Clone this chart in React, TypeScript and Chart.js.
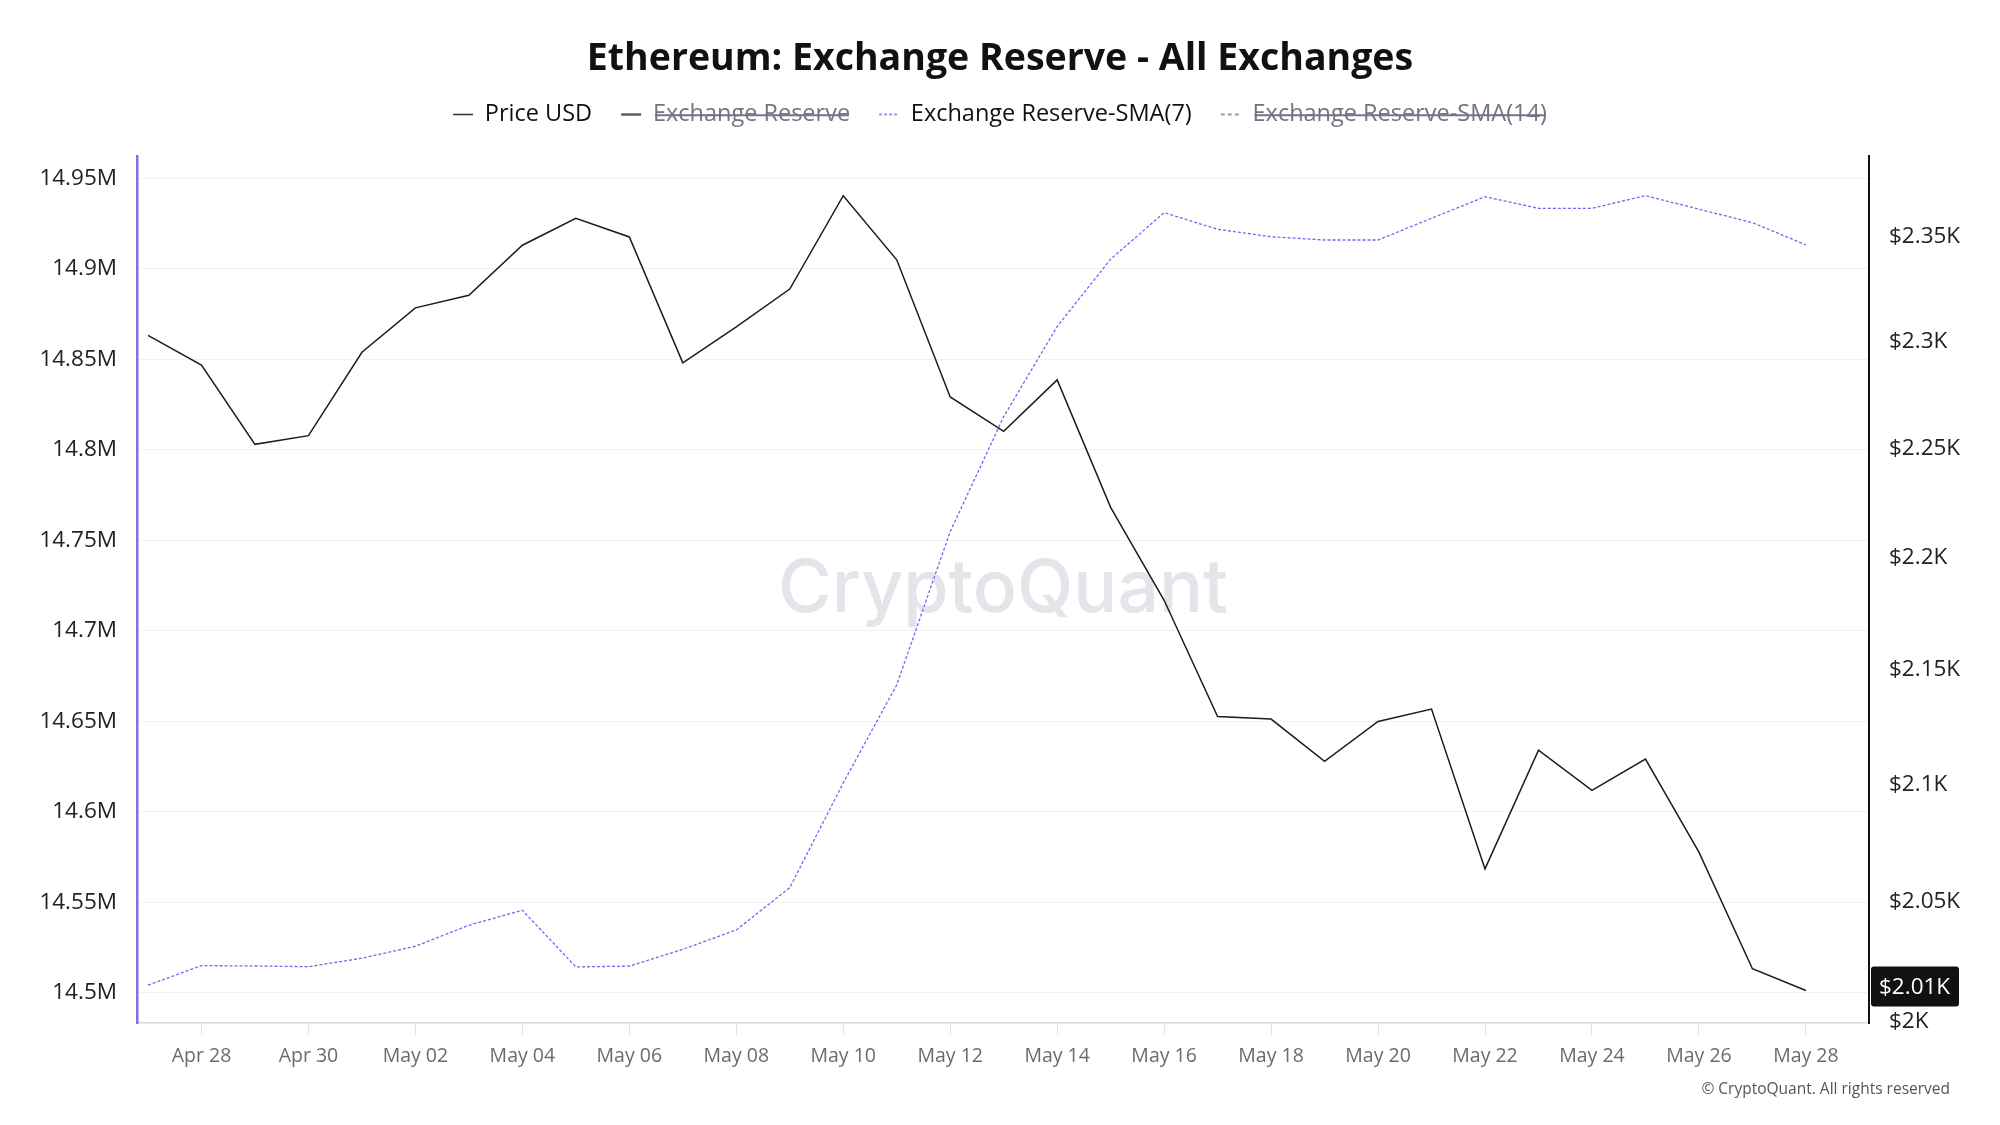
import React, { useEffect, useRef } from "react";
import { Chart, registerables } from "chart.js";

Chart.register(...registerables);

// ---------- data ----------
const dateLabels = [
  "Apr 27", "Apr 28", "Apr 29", "Apr 30", "May 01", "May 02", "May 03", "May 04",
  "May 05", "May 06", "May 07", "May 08", "May 09", "May 10", "May 11", "May 12",
  "May 13", "May 14", "May 15", "May 16", "May 17", "May 18", "May 19", "May 20",
  "May 21", "May 22", "May 23", "May 24", "May 25", "May 26", "May 27", "May 28",
];

const xTickLabels = [
  "Apr 28", "Apr 30", "May 02", "May 04", "May 06", "May 08", "May 10", "May 12",
  "May 14", "May 16", "May 18", "May 20", "May 22", "May 24", "May 26", "May 28",
];

const priceUsd = [
  2303, 2289, 2252, 2256, 2295, 2316, 2322, 2346,
  2359, 2350, 2290, 2307, 2325, 2370, 2339, 2274,
  2258, 2282, 2223, 2181, 2129.5, 2128.4, 2110, 2127.4,
  2132.8, 2063.9, 2114.9, 2097.5, 2111, 2071, 2022, 2013,
];

const reserveSma7 = [
  14504300, 14515100, 14514900, 14514500, 14519200, 14525800, 14537400, 14545700,
  14514400, 14514800, 14524100, 14534800, 14558200, 14616000, 14670200, 14754900,
  14818400, 14868200, 14905400, 14931100, 14921900, 14917800, 14916000, 14916000,
  14928000, 14939900, 14933500, 14933500, 14940500, 14933000, 14925600, 14913300,
];

// hidden in the reference (legend items struck through) – no values visible
const exchangeReserve: number[] = [];
const reserveSma14: number[] = [];

const leftTicks = [
  14500000, 14550000, 14600000, 14650000, 14700000,
  14750000, 14800000, 14850000, 14900000, 14950000,
];
const rightTicks = [2000, 2050, 2100, 2150, 2200, 2250, 2300, 2350];

const TITLE = "Ethereum: Exchange Reserve - All Exchanges";
const FONT = "'Open Sans', 'Noto Sans', sans-serif";

const toXY = (arr: number[]) => arr.map((v, i) => ({ x: i, y: v }));

export default function App() {
  const ref = useRef<HTMLCanvasElement>(null);

  useEffect(() => {
    const canvas = ref.current;
    if (!canvas) return;

    const watermark = {
      id: "watermark",
      beforeDatasetsDraw(chart: any) {
        const { ctx, chartArea } = chart;
        ctx.save();
        const fam = "Inter, Lato, sans-serif";
        ctx.font = `500 80px ${fam}`;
        const w = ctx.measureText("CryptoQuant").width;
        const size = (80 * 450) / w;
        ctx.font = `500 ${size}px ${fam}`;
        ctx.fillStyle = "#e4e4eb";
        ctx.textAlign = "center";
        ctx.textBaseline = "alphabetic";
        const cx = (chartArea.left + chartArea.right) / 2;
        const cy = (chartArea.top + chartArea.bottom) / 2 + 22;
        ctx.fillText("CryptoQuant", cx, cy);
        ctx.restore();
      },
    };

    const extras = {
      id: "extras",
      afterDraw(chart: any) {
        const { ctx } = chart;
        // copyright
        ctx.save();
        ctx.font = `15.5px ${FONT}`;
        ctx.fillStyle = "#555";
        ctx.textAlign = "right";
        ctx.textBaseline = "middle";
        ctx.fillText("© CryptoQuant. All rights reserved", 1950, 1090);
        // last price badge
        const s = chart.scales.y1;
        const last = priceUsd[priceUsd.length - 1];
        const y = s.getPixelForValue(last) - 4;
        const bx = s.left + 2;
        const bw = 88;
        const bh = 40;
        ctx.fillStyle = "#111";
        ctx.beginPath();
        if (ctx.roundRect) ctx.roundRect(bx, y - bh / 2, bw, bh, 3);
        else ctx.rect(bx, y - bh / 2, bw, bh);
        ctx.fill();
        ctx.fillStyle = "#fff";
        ctx.font = `22.5px ${FONT}`;
        ctx.textAlign = "left";
        ctx.fillText(`$${(last / 1000).toFixed(2)}K`, bx + 8, y + 1);
        ctx.restore();
      },
    };

    const chart = new Chart(canvas, {
      type: "line",
      data: {
        datasets: [
          {
            label: "Price USD",
            data: toXY(priceUsd),
            yAxisID: "y1",
            borderColor: "#1c1c1c",
            borderWidth: 1.5,
            pointRadius: 0,
            tension: 0,
          },
          {
            label: "Exchange Reserve",
            data: toXY(exchangeReserve),
            yAxisID: "y",
            borderColor: "#5c5c6a",
            borderWidth: 2.5,
            pointRadius: 0,
            hidden: true,
          },
          {
            label: "Exchange Reserve-SMA(7)",
            data: toXY(reserveSma7),
            yAxisID: "y",
            borderColor: "#7466f2",
            borderWidth: 1.3,
            borderDash: [3, 2],
            pointRadius: 0,
            tension: 0,
          },
          {
            label: "Exchange Reserve-SMA(14)",
            data: toXY(reserveSma14),
            yAxisID: "y",
            borderColor: "#9a9aaa",
            borderWidth: 2,
            borderDash: [4, 3],
            pointRadius: 0,
            hidden: true,
          },
        ],
      },
      options: {
        animation: false,
        responsive: true,
        maintainAspectRatio: false,
        devicePixelRatio: 1,
        layout: { padding: { top: 0, left: 0, right: 0, bottom: 42 } },
        plugins: {
          title: {
            display: true,
            text: TITLE,
            color: "#111",
            font: { family: FONT, size: 37.5, weight: "bold", lineHeight: 0.5 },
            padding: { top: 50.1, bottom: 4.9 },
          },
          legend: {
            display: true,
            position: "top",
            onClick: () => {},
            labels: {
              usePointStyle: true,
              pointStyle: "line",
              pointStyleWidth: 20,
              padding: 29,
              color: "#111",
              font: { family: FONT, size: 23.5 },
              generateLabels: (c: any) =>
                c.data.datasets.map((ds: any, i: number) => {
                  const vis = c.isDatasetVisible(i);
                  return {
                    text: ds.label,
                    fillStyle: ds.borderColor,
                    strokeStyle: i === 2 ? "#9d90f6" : i === 0 ? "#333" : ds.borderColor,
                    lineWidth: i === 2 ? 2 : ds.borderWidth,
                    lineDash: ds.borderDash || [],
                    hidden: !vis,
                    fontColor: vis ? "#111" : "#737384",
                    pointStyle: "line",
                    datasetIndex: i,
                  };
                }),
            },
          },
          tooltip: { enabled: false },
        },
        scales: {
          x: {
            type: "linear",
            position: "bottom",
            bounds: "data",
            min: -0.2057,
            max: 32.18,
            afterBuildTicks: (s: any) => {
              s.ticks = xTickLabels.map((l) => ({ value: dateLabels.indexOf(l) }));
            },
            ticks: {
              autoSkip: false,
              maxRotation: 0,
              color: "#6b6b6b",
              padding: 10,
              font: { family: FONT, size: 19.5 },
              callback: (v: any) => dateLabels[Math.round(Number(v))] ?? "",
            },
            grid: {
              display: true,
              drawOnChartArea: false,
              drawTicks: true,
              tickLength: 12,
              color: "#e3e3eb",
            },
            border: { display: true, color: "#d6d6e4", width: 1.5 },
            afterFit: (s: any) => {
              s.height = 60;
            },
          },
          xTop: {
            type: "linear",
            position: "top",
            min: 0,
            max: 1,
            display: true,
            grid: { display: false },
            border: { display: false },
            ticks: { display: false },
            afterFit: (s: any) => {
              s.height = 19.75;
            },
          },
          y: {
            type: "linear",
            position: "left",
            bounds: "data",
            min: 14483400,
            max: 14962400,
            afterBuildTicks: (s: any) => {
              s.ticks = leftTicks.map((v) => ({ value: v }));
            },
            ticks: {
              color: "#222",
              padding: 20,
              font: { family: FONT, size: 22.5 },
              callback: (v: any) => `${parseFloat((Number(v) / 1e6).toFixed(2))}M`,
            },
            grid: { color: "#f1f1f3", drawTicks: false, lineWidth: 1 },
            border: { display: true, color: "#7f70ef", width: 2.5 },
            afterFit: (s: any) => {
              s.width = 137;
            },
          },
          y1: {
            type: "logarithmic",
            position: "right",
            bounds: "data",
            min: 1999.6,
            max: 2389.4,
            afterBuildTicks: (s: any) => {
              s.ticks = rightTicks.map((v) => ({ value: v }));
            },
            ticks: {
              color: "#222",
              padding: 20,
              font: { family: FONT, size: 22.5 },
              callback: (v: any) => `$${parseFloat((Number(v) / 1000).toFixed(2))}K`,
            },
            grid: { display: false, drawTicks: false },
            border: { display: true, color: "#111", width: 2 },
            afterFit: (s: any) => {
              s.width = 131;
            },
          },
        },
      },
      plugins: [watermark, extras],
    } as any);

    return () => chart.destroy();
  }, []);

  return (
    <div
      style={{
        position: "absolute",
        left: 0,
        top: 0,
        width: 2000,
        height: 1125,
        background: "#fff",
      }}
    >
      <canvas ref={ref} />
    </div>
  );
}
